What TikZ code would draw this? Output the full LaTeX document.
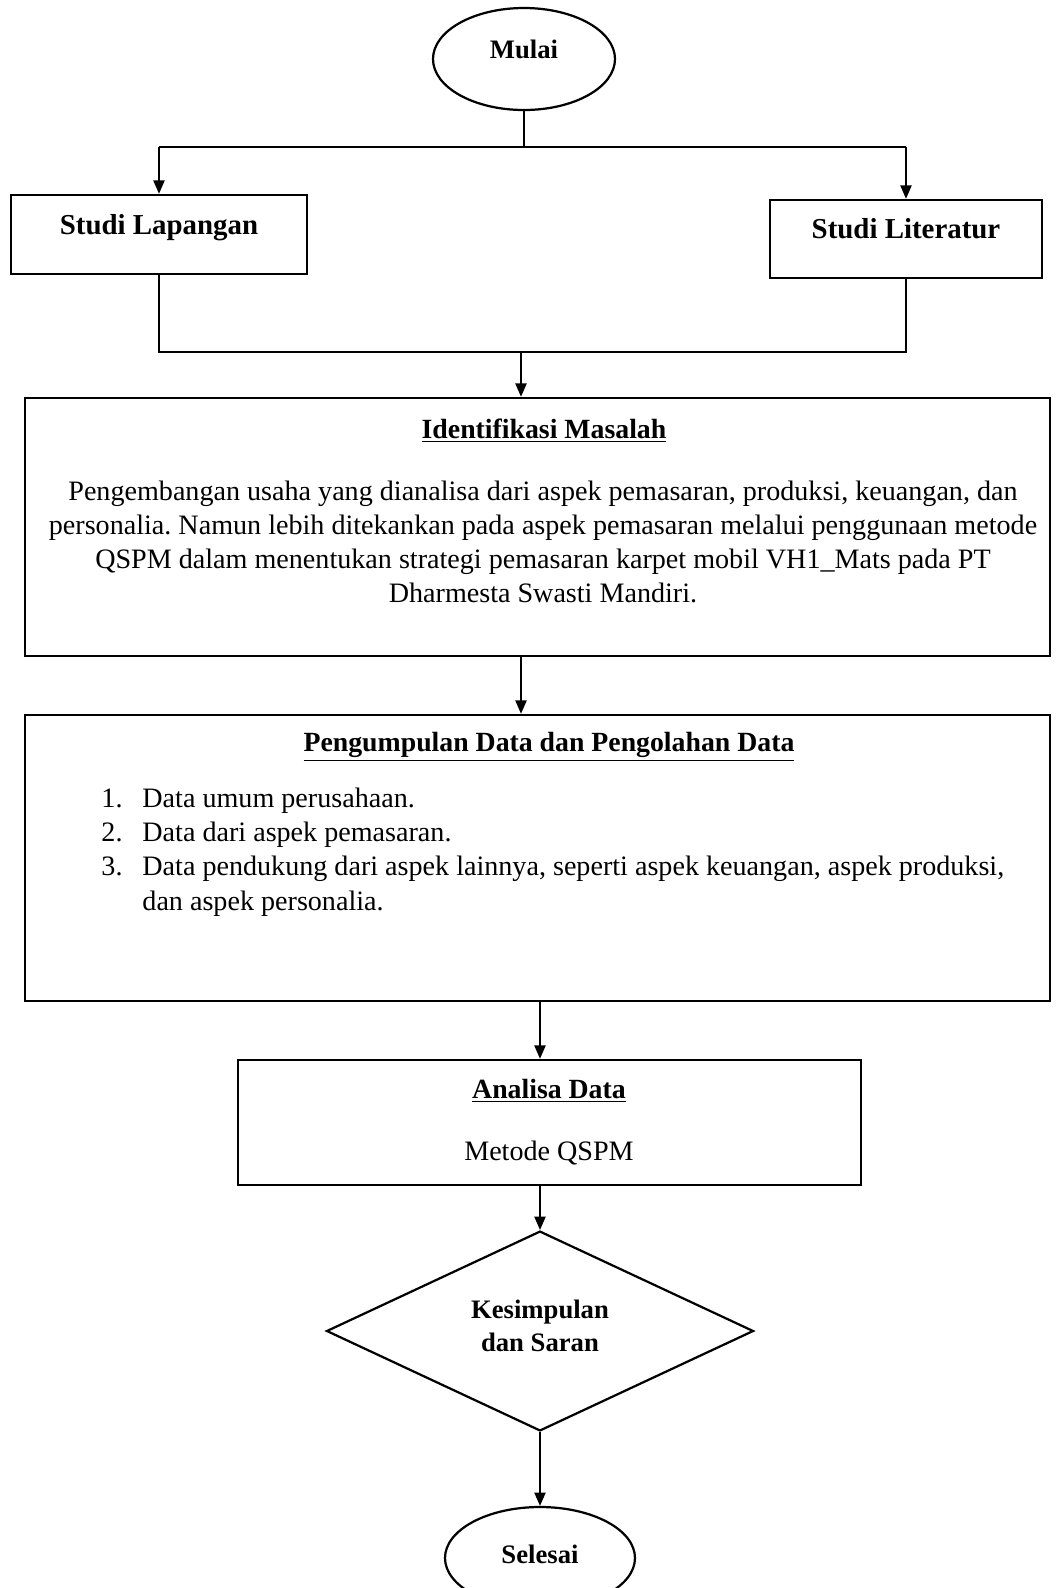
\documentclass[tikz,border=0pt]{standalone}
\usepackage{fontspec}
\setmainfont{Liberation Serif}
\usetikzlibrary{shapes.geometric,arrows.meta}
\frenchspacing

\begin{document}
\begin{tikzpicture}[x=0.45pt,y=-0.45pt,
      font=\fontsize{12.65}{15.4}\selectfont,
      line/.style={draw,line width=0.8pt},
      flow/.style={draw,line width=0.8pt,-{Triangle[length=6pt,width=5pt]}},
      box/.style={draw,rectangle,line width=1.1pt,inner sep=0pt},
      term/.style={draw,ellipse,line width=1pt,inner sep=0pt,font=\fontsize{12}{14}\selectfont\bfseries},
      hi/.style={text height=8.2pt,text depth=8.6pt},
      head/.style={inner sep=0pt,font=\fontsize{12.5}{15}\selectfont\bfseries}]

      \useasboundingbox (0,0) rectangle (1056,1588);

      \node[term,hi,minimum width=81.9pt,minimum height=45.9pt] (mulai) at (524,59) {Mulai};
      \node[box,hi,minimum width=133.2pt,minimum height=35.55pt,font=\fontsize{13}{15}\selectfont\bfseries] (lap) at (159,234.5) {Studi Lapangan};
      \node[box,hi,minimum width=122.4pt,minimum height=35.1pt,font=\fontsize{13}{15}\selectfont\bfseries] (lit) at (906,239) {Studi Literatur};

      % identifikasi masalah
      \node[box,minimum width=461.25pt,minimum height=116.1pt] (idbox) at (537.5,527) {};
      \node[head] (idtitle) at (544,431) {\underline{Identifikasi Masalah}};
      \node[align=center,inner sep=0pt] (idtext) at (543,542) {Pengembangan usaha yang dianalisa dari aspek pemasaran, produksi, keuangan, dan\\
        personalia. Namun lebih ditekankan pada aspek pemasaran melalui penggunaan metode\\
        QSPM dalam menentukan strategi pemasaran karpet mobil VH1\_Mats pada PT\\
        Dharmesta Swasti Mandiri.};

      % pengumpulan data
      \node[box,minimum width=461.25pt,minimum height=128.7pt] (pdbox) at (537.5,858) {};
      \node[head] (pdtitle) at (549,747) {\underline{Pengumpulan Data dan Pengolahan Data}};
      \node[align=left,inner sep=0pt,anchor=west] (pdlist) at (101,852) {\makebox[18.45pt][l]{1.}Data umum perusahaan.\\
        \makebox[18.45pt][l]{2.}Data dari aspek pemasaran.\\
        \makebox[18.45pt][l]{3.}Data pendukung dari aspek lainnya, seperti aspek keuangan, aspek produksi,\\
        \hspace*{18.45pt}dan aspek personalia.};

      % analisa data
      \node[box,minimum width=280.35pt,minimum height=56.25pt] (anbox) at (549.5,1122.5) {};
      \node[head] (antitle) at (549,1091) {\underline{Analisa Data}};
      \node[inner sep=0pt] (anmethod) at (549,1153) {Metode QSPM};

      \node[diamond,draw,line width=1pt,inner sep=0pt,minimum width=192.15pt,minimum height=80.55pt,
            align=center,text depth=4.6pt,
            font=\fontsize{12}{15}\selectfont\bfseries] (kes) at (540,1331) {Kesimpulan\\dan Saran};
      \node[term,text height=8.2pt,text depth=3pt,minimum width=85.5pt,minimum height=45.9pt] (sel) at (540,1558) {Selesai};

      \coordinate (split) at (521,147);
      \coordinate (merge) at (521,352);

      \draw[line] (mulai.south) -- (mulai.south |- split);
      \draw[line] (lap.north |- split) -- (lit.north |- split);
      \draw[flow] (lap.north |- split) -- (lap.north);
      \draw[flow] (lit.north |- split) -- (lit.north);
      \draw[line] (lap.south) -- (lap.south |- merge) -- (lit.south |- merge) -- (lit.south);
      \draw[flow] (merge) -- (merge |- idbox.north);
      \draw[flow] (idbox.south -| merge) -- (pdbox.north -| merge);
      \draw[flow] (pdbox.south -| kes.north) -- (anbox.north -| kes.north);
      \draw[flow] (anbox.south -| kes.north) -- (kes.north);
      \draw[flow] (kes.south) -- (kes.south |- sel.north);
    \end{tikzpicture}
\end{document}
